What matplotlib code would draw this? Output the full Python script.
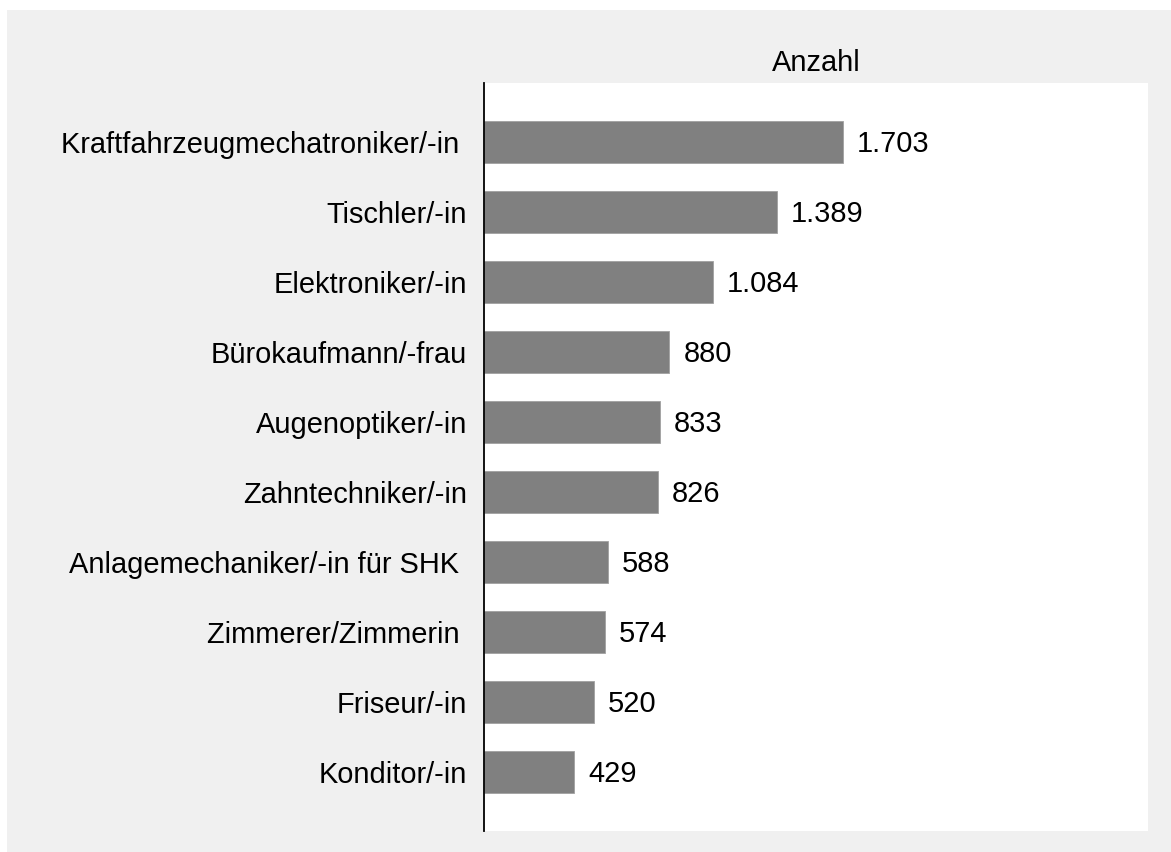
import matplotlib as mpl
mpl.use('Agg')
import matplotlib.pyplot as plt
from matplotlib.patches import Rectangle

# data, top to bottom
berufe = ['Kraftfahrzeugmechatroniker/-in ', 'Tischler/-in', 'Elektroniker/-in',
          'Bürokaufmann/-frau', 'Augenoptiker/-in', 'Zahntechniker/-in',
          'Anlagemechaniker/-in für SHK ', 'Zimmerer/Zimmerin ', 'Friseur/-in',
          'Konditor/-in']
anzahl = [1703, 1389, 1084, 880, 833, 826, 588, 574, 520, 429]

plt.rcParams['font.family'] = ['Liberation Sans', 'DejaVu Sans']
fs = 20.9

fig = plt.figure(figsize=(11.71, 8.52), dpi=100)
fig.patch.set_facecolor('white')
fig.patches.append(Rectangle((7 / 1171, 0), 1 - 7 / 1171, 1 - 10 / 852,
                             transform=fig.transFigure, facecolor='#f0f0f0',
                             edgecolor='none', zorder=-10))

ax = fig.add_axes([484 / 1171, 21 / 852, (1148 - 484) / 1171, (831 - 83) / 852])
ax.set_facecolor('white')

pos = list(range(len(berufe)))
ax.barh(pos, anzahl, height=0.6, color='#808080', edgecolor='#a0a0a0', linewidth=0.6)

for p, v in zip(pos, anzahl):
    ax.annotate(f'{v:,}'.replace(',', '.'), (v, p), xytext=(10, -1.5),
                textcoords='offset points', va='center', ha='left', fontsize=fs)

ax.set_yticks(pos)
ax.set_yticklabels(berufe, fontsize=fs)
ax.set_ylim(len(berufe) - 1 + 0.843, -0.843)
ax.set_xlim(0, 3150)
ax.set_xticks([])
ax.tick_params(axis='y', length=0, pad=12)

for s in ['top', 'right', 'bottom']:
    ax.spines[s].set_visible(False)
ax.spines['left'].set_color('black')
ax.spines['left'].set_linewidth(1.3)

ax.set_title('Anzahl', fontsize=fs, pad=8.5)

fig.savefig('out.png', dpi=100)
